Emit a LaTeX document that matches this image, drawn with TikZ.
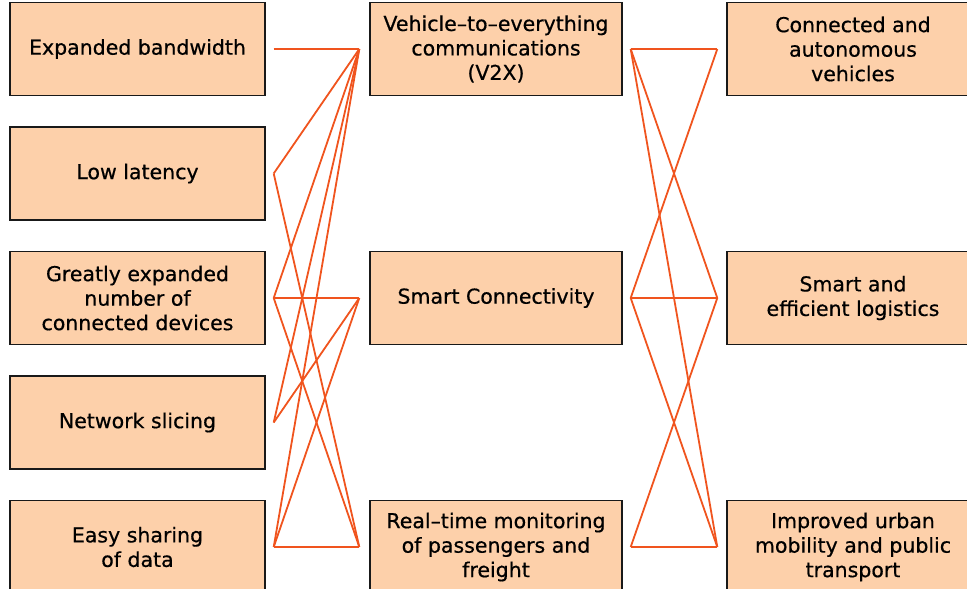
\documentclass[tikz,border=0pt]{standalone}
\usepackage{fontspec}
\setmainfont{DejaVu Sans}[FakeBold=0.6]
\definecolor{boxfill}{RGB}{253,208,170}
\definecolor{linkred}{RGB}{240,84,30}
\tikzset{
	boxstyle/.style={rectangle,draw=black!90,line width=1.4pt,fill=boxfill,minimum width=252,minimum height=93,align=center,font=\fontsize{20.5}{24.5}\selectfont},
	linkstyle/.style={draw=linkred,line width=1.8pt}
}
\begin{document}
\begin{tikzpicture}[x=1pt,y=-1pt]
	\useasboundingbox (0,0) rectangle (967,589);
	% left column
	\node[boxstyle,minimum width=255] (bandwidth) at (137.5,49) {Expanded bandwidth};
	\node[boxstyle,minimum width=255] (latency) at (137.5,173.5) {Low latency};
	\node[boxstyle,minimum width=255] (devices) at (137.5,298) {Greatly expanded\\number of\\connected devices};
	\node[boxstyle,minimum width=255] (slicing) at (137.5,422.5) {Network slicing};
	\node[boxstyle,minimum width=255] (sharing) at (137.5,547) {Easy sharing\\of data};
	% middle column
	\node[boxstyle] (vtx) at (496,49) {Vehicle--to--everything\\communications\\(V2X)};
	\node[boxstyle] (smart) at (496,298) {Smart Connectivity};
	\node[boxstyle] (monitor) at (496,547) {Real--time monitoring\\of passengers and\\freight};
	% right column
	\node[boxstyle] (cav) at (853,49) {Connected and\\autonomous\\vehicles};
	\node[boxstyle] (logistics) at (853,298) {Smart and\\efficient logistics};
	\node[boxstyle] (urban) at (853,547) {Improved urban\\mobility and public\\transport};
	% line ends
	\coordinate (bandwidth-r) at ([xshift=8]bandwidth.east);
	\coordinate (latency-r) at ([xshift=8]latency.east);
	\coordinate (devices-r) at ([xshift=8]devices.east);
	\coordinate (slicing-r) at ([xshift=8]slicing.east);
	\coordinate (sharing-r) at ([xshift=8]sharing.east);
	\coordinate (vtx-l) at ([xshift=-10]vtx.west);
	\coordinate (smart-l) at ([xshift=-10]smart.west);
	\coordinate (monitor-l) at ([xshift=-10]monitor.west);
	\coordinate (vtx-r) at ([xshift=8]vtx.east);
	\coordinate (smart-r) at ([xshift=8]smart.east);
	\coordinate (monitor-r) at ([xshift=8]monitor.east);
	\coordinate (cav-l) at ([xshift=-9]cav.west);
	\coordinate (logistics-l) at ([xshift=-9]logistics.west);
	\coordinate (urban-l) at ([xshift=-9]urban.west);
	% left links
	\draw[linkstyle] (bandwidth-r)--(vtx-l);
	\draw[linkstyle] (latency-r)--(vtx-l);
	\draw[linkstyle] (devices-r)--(vtx-l);
	\draw[linkstyle] (slicing-r)--(vtx-l);
	\draw[linkstyle] (sharing-r)--(vtx-l);
	\draw[linkstyle] (devices-r)--(smart-l);
	\draw[linkstyle] (slicing-r)--(smart-l);
	\draw[linkstyle] (sharing-r)--(smart-l);
	\draw[linkstyle] (latency-r)--(monitor-l);
	\draw[linkstyle] (devices-r)--(monitor-l);
	\draw[linkstyle] (sharing-r)--(monitor-l);
	% right links
	\draw[linkstyle] (vtx-r)--(cav-l);
	\draw[linkstyle] (vtx-r)--(logistics-l);
	\draw[linkstyle] (vtx-r)--(urban-l);
	\draw[linkstyle] (smart-r)--(cav-l);
	\draw[linkstyle] (smart-r)--(logistics-l);
	\draw[linkstyle] (smart-r)--(urban-l);
	\draw[linkstyle] (monitor-r)--(logistics-l);
	\draw[linkstyle] (monitor-r)--(urban-l);
\end{tikzpicture}
\end{document}
